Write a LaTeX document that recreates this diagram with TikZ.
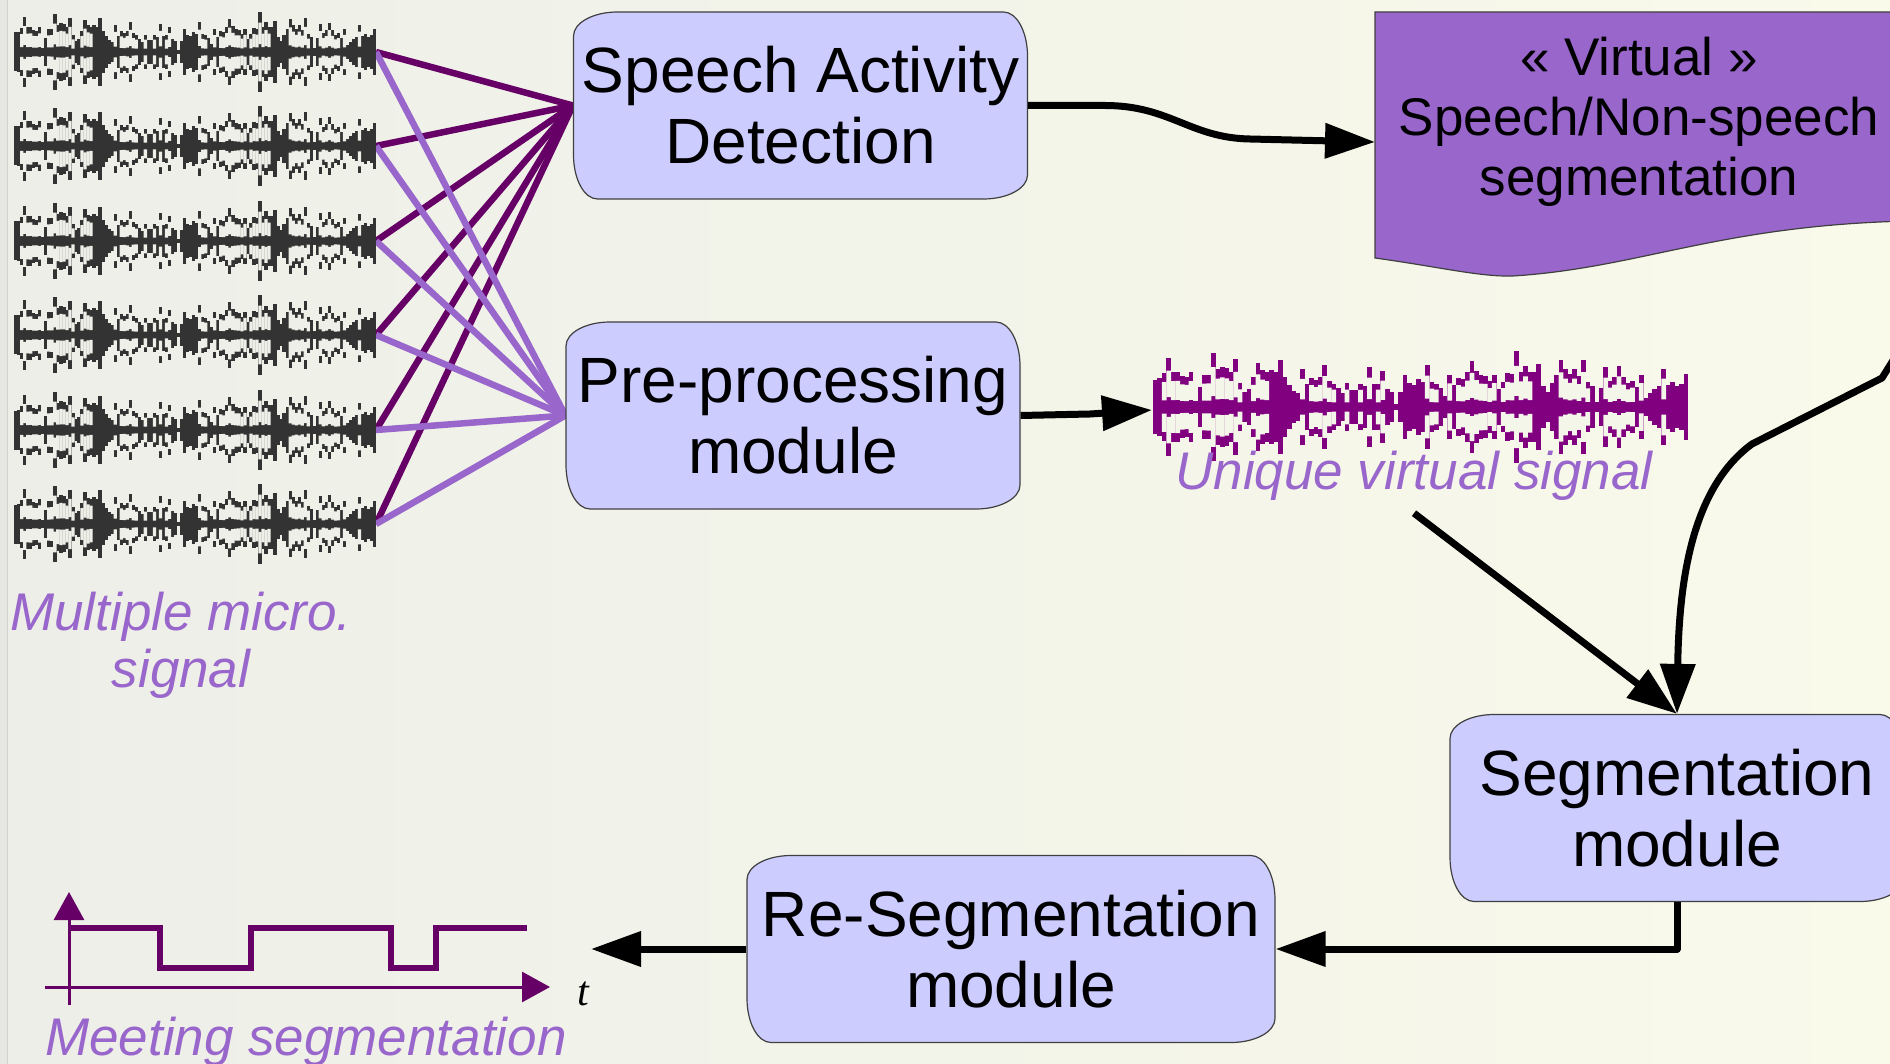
\documentclass[tikz,border=0pt]{standalone}
\usepackage{fontspec}
\setmainfont{Liberation Sans}
\newfontfamily\axisfont{Liberation Serif}
\usetikzlibrary{arrows.meta,calc}

\definecolor{paperL}{HTML}{EDEEE8}
\definecolor{paperR}{HTML}{F9FAEA}
\definecolor{paperEdge}{HTML}{E6E6E2}
\definecolor{paperRule}{HTML}{D2D2CE}
\definecolor{holeL}{HTML}{EEEFE8}
\definecolor{holeM}{HTML}{F5F6EA}
\definecolor{boxfill}{HTML}{CCCCFF}
\definecolor{docfill}{HTML}{9966CC}
\definecolor{plum}{HTML}{660066}
\definecolor{lilac}{HTML}{9966CC}
\definecolor{wavepurple}{HTML}{800080}
\definecolor{inkgrey}{HTML}{333333}
\definecolor{edgegrey}{HTML}{404040}

\pgfdeclarelayer{paper}
\pgfdeclarelayer{wires}
\pgfsetlayers{paper,wires,main}

\tikzset{
  ellcorners/.code={\pgfsetcornersarced{\pgfpoint{44pt}{24pt}}},
  module/.style={draw=edgegrey, line width=1.2pt, fill=boxfill, ellcorners,
    minimum width=454pt, minimum height=187pt, align=center, inner sep=0pt,
    font=\fontsize{64}{71}\selectfont},
  caption/.style={text=lilac, font=\fontsize{53}{57}\selectfont\itshape,
    align=center, inner sep=0pt},
  flow/.style={line width=7pt, line join=round, -{Triangle[length=50pt,width=34pt]}},
  tohub/.style={plum, line width=6.5pt},
  topre/.style={lilac, line width=6.5pt},
  axis/.style={plum, line width=3pt, -{Triangle[length=28pt,width=30pt]}},
  declare function={
    voiceamp(\n)=(0.15+0.85*sqrt(abs(sin(\n*16+20))))
                 *(0.8+0.2*sin(\n*5.3))
                 *(0.82+0.18*abs(sin(\n*97.5+11)))
                 +0.35*(abs(sin(\n*71.3))>0.95);
  },
}

% speech-like trace: #1 ink, #2 paper colour for the hollows,
% #3 left x, #4 centre y, #5 width, #6 amplitude
\newcommand\voicetrace[6]{%
  \begin{scope}[shift={(#3,#4)}]
    \foreach \n in {1,...,120} {
      \pgfmathsetmacro\xa{(\n-1)/120*#5}
      \pgfmathsetmacro\xb{\n/120*#5}
      \pgfmathsetmacro\an{#6*voiceamp(\n)}
      \fill[#1] (\xa,-\an) rectangle ({\xb+0.3},\an);
    }
    \foreach \n in {1,...,120} {
      \pgfmathsetmacro\xa{(\n-1)/120*#5}
      \pgfmathsetmacro\xb{\n/120*#5}
      \pgfmathsetmacro\rel{voiceamp(\n)}
      \pgfmathsetmacro\an{#6*\rel}
      \pgfmathtruncatemacro\holeflag{(\rel>0.55)*(abs(sin(\n*6.1))>0.3)}
      \ifnum\holeflag=1
        \fill[#2] (\xa,{-0.74*\an}) rectangle ({\xb+0.3},{-0.2*\an})
                  (\xa,{0.2*\an}) rectangle ({\xb+0.3},{0.74*\an});
      \fi
    }
    \draw[#1, line width=2.2pt] (0,0) -- (#5,0);
  \end{scope}}

\begin{document}
\begin{tikzpicture}[x=1pt, y=-1pt]
\useasboundingbox (0,0) rectangle (1890,1064);

% paper background
\begin{pgfonlayer}{paper}
  \shade[left color=paperL, right color=paperR] (0,0) rectangle (1890,1064);
  \fill[paperEdge] (0,0) rectangle (7,1064);
  \draw[paperRule, line width=1.5pt] (7.5,0) -- (7.5,1064);
\end{pgfonlayer}

% microphone signals
\foreach \k/\y in {1/52,2/146,3/241,4/335,5/430,6/524} {
  \voicetrace{inkgrey}{holeL}{14}{\y}{362}{30}
  \coordinate (mic\k) at (376,\y);
}
\node[caption] (multi) at (181,645) {Multiple micro.\\signal};

% processing modules
\node[module] (sad) at (800.5,105.5) {Speech Activity\\Detection};
\node[module] (pre) at (793,415.5) {Pre-processing\\module};
\node[module] (seg) at (1677,808) {Segmentation\\module};
\node[module, minimum width=528pt] (reseg) at (1011,949) {Re-Segmentation\\module};

% wiring from every microphone to both front-end modules
\begin{pgfonlayer}{wires}
  \foreach \k in {1,...,6} \draw[tohub] (mic\k) -- (sad.west);
  \foreach \k in {1,...,6} \draw[topre] (mic\k) -- (pre.west);
\end{pgfonlayer}

% speech / non-speech document
\draw[draw=edgegrey, line width=1.2pt, fill=docfill]
  (1910,12) -- (1375,12) -- (1375,258)
  .. controls (1440,267) and (1480,277) .. (1513,276)
  .. controls (1640,268) and (1720,225) .. (1910,221) -- cycle;
\node[font=\fontsize{53}{60}\selectfont, align=center, inner sep=0pt] (virt)
  at (1639,122) {« Virtual »\\Speech/Non-speech\\segmentation};
\coordinate (virt-in) at (1375,142);
\coordinate (fb-start) at (1902,346);

% unique virtual signal
\voicetrace{wavepurple}{holeM}{1153}{407}{535}{42}
\coordinate (uwave-in) at (1152,410);
\node[caption, anchor=base] (ulabel) at (1414,489) {Unique virtual signal};

% meeting segmentation plot
\draw[axis] (69,1005) -- (69,892);
\draw[axis] (45,987) -- (550,987);
\draw[plum, line width=6pt, line join=miter]
  (69,928) -- (160,928) -- (160,968) -- (251,968) -- (251,928) -- (391,928)
  -- (391,968) -- (436,968) -- (436,928) -- (527,928);
\node[font=\axisfont\itshape\fontsize{42}{42}\selectfont, anchor=base, inner sep=0pt]
  (tlabel) at (583,1005) {t};
\node[caption, anchor=base west] (meet) at (45,1055) {Meeting segmentation};
\coordinate (meet-in) at (591,949);

% data flow
\draw[flow] (sad.east) -- (1105,105.5)
  .. controls (1170,105.5) and (1190,138) .. (1250,139) -- (virt-in);
\draw[flow] (pre.east) -- (1090,414) -- (uwave-in);
\draw[flow] ([yshift=-13pt]ulabel.south) -- (seg.north);
\draw[flow] (fb-start) -- (1882,378) -- (1752,444)
  .. controls (1692,488) and (1679,580) .. (seg.north);
\draw[flow] (seg.south) |- (reseg.east);
\draw[flow] (reseg.west) -- (meet-in);
\end{tikzpicture}
\end{document}
